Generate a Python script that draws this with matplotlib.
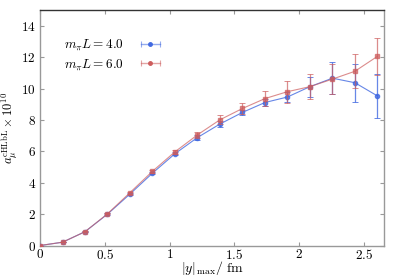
import numpy as np
import matplotlib
matplotlib.use("Agg")
import matplotlib.pyplot as plt
from matplotlib.lines import Line2D
from matplotlib.legend_handler import HandlerLine2D, HandlerTuple
from matplotlib.ticker import FuncFormatter

plt.rcParams['mathtext.fontset'] = 'cm'
plt.rcParams['font.family'] = 'DejaVu Serif'

# data
y_max = np.arange(16) * 0.1737

a_L4 = [0.0, 0.21, 0.88, 2.0, 3.28, 4.61, 5.85, 6.88, 7.74, 8.48, 9.11, 9.46, 10.12, 10.66, 10.37, 9.53]
err_L4 = [0.0, 0.01, 0.02, 0.04, 0.06, 0.08, 0.1, 0.14, 0.2, 0.18, 0.25, 0.33, 0.63, 1.0, 1.2, 1.42]

a_L6 = [0.0, 0.21, 0.88, 2.02, 3.37, 4.73, 5.97, 7.05, 8.01, 8.73, 9.36, 9.8, 10.12, 10.6, 11.1, 12.05]
err_L6 = [0.0, 0.01, 0.02, 0.04, 0.06, 0.09, 0.12, 0.2, 0.28, 0.38, 0.5, 0.7, 0.8, 0.97, 1.08, 1.18]

labels = [r'$m_\pi L = 4.0$', r'$m_\pi L = 6.0$']
blue = '#4169e1'
red = '#cd5c5c'

fig = plt.figure(figsize=(3.99, 2.79), dpi=100)
ax = fig.add_axes([0.1003, 0.12, 0.862, 0.844])

ax.errorbar(y_max, a_L4, yerr=err_L4, color=blue, ecolor=blue, elinewidth=0.9,
            capsize=2.0, capthick=0.7, lw=0.8, alpha=0.8, marker='o', ms=3.0, zorder=3)
ax.errorbar(y_max, a_L6, yerr=err_L6, color=red, ecolor=red, elinewidth=0.9,
            capsize=2.0, capthick=0.7, lw=0.8, alpha=0.7, marker='s', ms=3.0, zorder=4)

ax.set_xlim(0, 2.656)
ax.set_ylim(0, 15)
ax.set_xticks([0, 0.5, 1, 1.5, 2, 2.5])
ax.set_yticks(range(0, 15, 2))
fmt = FuncFormatter(lambda v, p: r'$%g$' % v)
ax.xaxis.set_major_formatter(fmt)
ax.yaxis.set_major_formatter(fmt)
ax.tick_params(direction='in', top=True, right=True, length=3, width=0.8,
               color='#999999', labelsize=9.5, pad=3)
ax.tick_params(axis='x', pad=1.5)
for s in ax.spines.values():
    s.set_color('#999999')
    s.set_linewidth(1.0)
ax.spines['top'].set_color('#333333')

ax.set_xlabel(r'$|y|_{\mathrm{max}}/\ \mathrm{fm}$', fontsize=10, va='bottom')
ax.xaxis.set_label_coords(0.531, 0.006, transform=fig.transFigure)
ax.set_ylabel(r'$a_\mu^{\mathrm{cHLbL}}\times 10^{10}$', fontsize=9, labelpad=1)

# legend: label first, horizontal bar with caps
handles = []
hmap = {}
for c in (blue, red):
    bar = Line2D([0], [0], color=c, lw=1.0, alpha=0.55, marker='|', ms=4, mew=0.8)
    dot = Line2D([0], [0], color=c, lw=0, marker='o', ms=2.5)
    hmap[bar] = HandlerLine2D(numpoints=2)
    hmap[dot] = HandlerLine2D(numpoints=1)
    handles.append((bar, dot))
hmap[tuple] = HandlerTuple(ndivide=1)
ax.legend(handles, labels, handler_map=hmap, loc='upper left', bbox_to_anchor=(0.055, 0.905),
          frameon=False, markerfirst=False, fontsize=9.5, handlelength=2.0,
          handletextpad=1.0, labelspacing=0.25, borderaxespad=0)

fig.savefig('out.png', dpi=100)
